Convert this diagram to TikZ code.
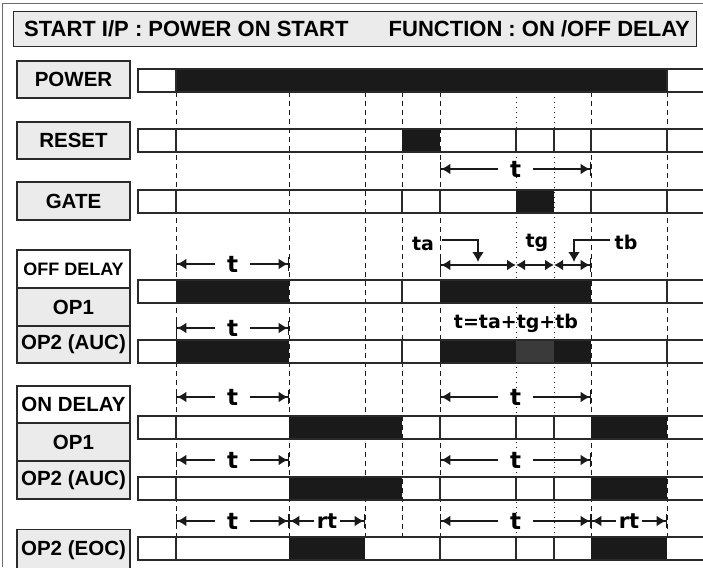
\documentclass[tikz,border=0pt]{standalone}
\usepackage{fontspec}
\setmainfont{Liberation Sans}
\newfontfamily\tfont{DejaVu Sans}
\usetikzlibrary{arrows.meta}
\definecolor{cellgray}{HTML}{EBEBEB}
\definecolor{ink}{HTML}{1A1A1A}
\definecolor{edge}{HTML}{2A2A2A}
\definecolor{midgray}{HTML}{3A3A3A}
\tikzset{
  frame/.style={draw=gray!85!black, line width=1pt},
  header/.style={draw=edge, line width=1.4pt, fill=cellgray, inner sep=0pt},
  htext/.style={inner sep=0pt, font=\bfseries\fontsize{22}{22}\selectfont},
  lbl/.style={draw=edge, line width=1.4pt, fill=cellgray, minimum width=113pt, inner sep=0pt, font=\bfseries\fontsize{20.5}{20.5}\selectfont},
  lblw/.style={lbl, fill=white},
  sig/.style={draw=edge, line width=1.3pt, fill=white},
  divline/.style={draw=edge, line width=1.3pt},
  tdash/.style={draw=ink, line width=0.9pt, dash pattern=on 5pt off 4pt},
  tdot/.style={draw=ink, line width=0.9pt, dash pattern=on 1pt off 4pt},
  dim/.style={draw=ink, line width=2.5pt},
  bothbar/.style={arrows={Bar[width=14pt,line width=1.3pt]Latex[length=9pt,width=11pt]-Latex[length=9pt,width=11pt]Bar[width=14pt,line width=1.3pt]}},
  leftbar/.style={arrows={Bar[width=14pt,line width=1.3pt]Latex[length=9pt,width=11pt]-Latex[length=9pt,width=11pt]}},
  rightbar/.style={arrows={Latex[length=9pt,width=11pt]-Latex[length=9pt,width=11pt]Bar[width=14pt,line width=1.3pt]}},
  nobar/.style={arrows={Latex[length=9pt,width=11pt]-Latex[length=9pt,width=11pt]}},
  bent/.style={draw=ink, line width=2.8pt, arrows={-Latex[length=10pt,width=12pt]}},
  tlab/.style={fill=white, inner xsep=12pt, inner ysep=0pt, font=\tfont\bfseries\fontsize{23}{23}\selectfont},
  rtlab/.style={fill=white, inner xsep=3pt, inner ysep=0pt, font=\tfont\bfseries\fontsize{21}{21}\selectfont},
  slab/.style={inner sep=0pt, font=\tfont\bfseries\fontsize{19}{19}\selectfont},
  flab/.style={inner sep=0pt, font=\tfont\bfseries\fontsize{19}{19}\selectfont},
}
\begin{document}
\begin{tikzpicture}[x=1pt,y=-1pt]
\useasboundingbox (0,0) rectangle (703,567);
% outer frame
\draw[frame] (2.5,567) -- (2.5,3.5) -- (703,3.5);
% header
\node[header, minimum width=683pt, minimum height=35pt, anchor=north west] (hdr) at (13,11) {};
\node[htext, anchor=west] (hl) at (24,28.5) {START I/P : POWER ON START};
\node[htext, anchor=east] (hr) at (690,28.5) {FUNCTION : ON /OFF DELAY};
% labels
\node[lbl, minimum height=37pt] (lpow) at (73.5,79.5) {POWER};
\node[lbl, minimum height=37pt] (lres) at (73.5,140.5) {RESET};
\node[lbl, minimum height=38pt] (lgate) at (73.5,201) {GATE};
\node[lblw, minimum height=38pt, font=\bfseries\fontsize{18}{18}\selectfont] (loff) at (73.5,269) {OFF DELAY};
\node[lbl, minimum height=38pt] (loffa) at (73.5,307) {OP1};
\node[lbl, minimum height=37pt] (loffb) at (73.5,344.5) {OP2 (AUC)};
\node[lblw, minimum height=37pt] (lon) at (73.5,404.5) {ON DELAY};
\node[lbl, minimum height=38pt] (lona) at (73.5,442) {OP1};
\node[lbl, minimum height=38pt] (lonb) at (73.5,480) {OP2 (AUC)};
\node[lbl, minimum height=42pt, anchor=north] (leoc) at (73.5,529) {};
\node[font=\bfseries\fontsize{20.5}{20.5}\selectfont, inner sep=0pt] at (73.5,550) {OP2 (EOC)};
% bars (white)
\foreach \ya/\yb in {69/92,129/152,190/213,280/303,340/363,416/439,477/500,537/560}
  \draw[sig] (138,\ya) rectangle (706,\yb);
% timing lines
\foreach \x in {176,289,365,402,440,591,667}
  \draw[tdash] (\x,92) -- (\x,537);
\foreach \x in {516,554}
  \draw[tdot] (\x,92) -- (\x,537);
% high levels
\fill[ink] (176,69) rectangle (667,92);
\fill[ink] (402,129) rectangle (440,152);
\fill[ink] (516,190) rectangle (554,213);
\fill[ink] (176,280) rectangle (289,303);
\fill[ink] (440,280) rectangle (591,303);
\fill[ink] (176,340) rectangle (289,363);
\fill[ink] (440,340) rectangle (516,363);
\fill[midgray] (516,340) rectangle (554,363);
\fill[ink] (554,340) rectangle (591,363);
\fill[ink] (289,416) rectangle (402,439);
\fill[ink] (591,416) rectangle (667,439);
\fill[ink] (289,477) rectangle (402,500);
\fill[ink] (591,477) rectangle (667,500);
\fill[ink] (289,537) rectangle (365,560);
\fill[ink] (591,537) rectangle (667,560);
% cell dividers
\foreach \x in {176,667} \draw[divline] (\x,69) -- (\x,92);
\foreach \x in {176,516,554,591,667} \draw[divline] (\x,129) -- (\x,152);
\foreach \x in {176,402,440,591,667} \draw[divline] (\x,190) -- (\x,213);
\foreach \x in {402,667} \draw[divline] (\x,280) -- (\x,303);
\foreach \x in {402,667} \draw[divline] (\x,340) -- (\x,363);
\foreach \x in {176,440,516,554} \draw[divline] (\x,416) -- (\x,439);
\foreach \x in {176,440,516,554} \draw[divline] (\x,477) -- (\x,500);
\foreach \x in {176,440,516,554} \draw[divline] (\x,537) -- (\x,560);
% redraw bar outlines on top
\foreach \ya/\yb in {69/92,129/152,190/213,280/303,340/363,416/439,477/500,537/560}
  \draw[draw=edge, line width=1.3pt] (138,\ya) rectangle (706,\yb);
% dimension arrows
\coordinate (g1) at (440,169); \coordinate (g2) at (591,169);
\draw[dim, bothbar] (g1) -- (g2);
\node[tlab] at (515.5,169) {t};
\coordinate (a1) at (176,264); \coordinate (a2) at (289,264);
\draw[dim, bothbar] (a1) -- (a2);
\node[tlab] at (232.5,264) {t};
\coordinate (b1) at (176,328); \coordinate (b2) at (289,328);
\draw[dim, bothbar] (b1) -- (b2);
\node[tlab] at (232.5,328) {t};
% ta tg tb
\coordinate (p1) at (440,265); \coordinate (p2) at (516,265);
\coordinate (p3) at (554,265); \coordinate (p4) at (591,265);
\draw[dim, leftbar] (p1) -- (p2);
\draw[dim, nobar] (p2) -- (p3);
\draw[dim, rightbar] (p3) -- (p4);
\draw[bent] (442,240) -- (478,240) -- (478,262);
\draw[bent] (610,240) -- (574,240) -- (574,262);
\node[slab, anchor=base] at (423,250) {ta};
\node[slab, anchor=base] at (537,247) {tg};
\node[slab, anchor=base] at (626,249) {tb};
\node[flab] at (516,323) {t=ta+tg+tb};
% on delay
\foreach \yy in {397,460,521} {
  \draw[dim, bothbar] (176,\yy) -- (289,\yy);
  \node[tlab] at (232.5,\yy) {t};
  \draw[dim, bothbar] (440,\yy) -- (591,\yy);
  \node[tlab] at (515.5,\yy) {t};
}
\draw[dim, bothbar] (289,521) -- (365,521);
\node[rtlab] at (327,521) {rt};
\draw[dim, bothbar] (591,521) -- (667,521);
\node[rtlab] at (629,521) {rt};
\end{tikzpicture}
\end{document}
